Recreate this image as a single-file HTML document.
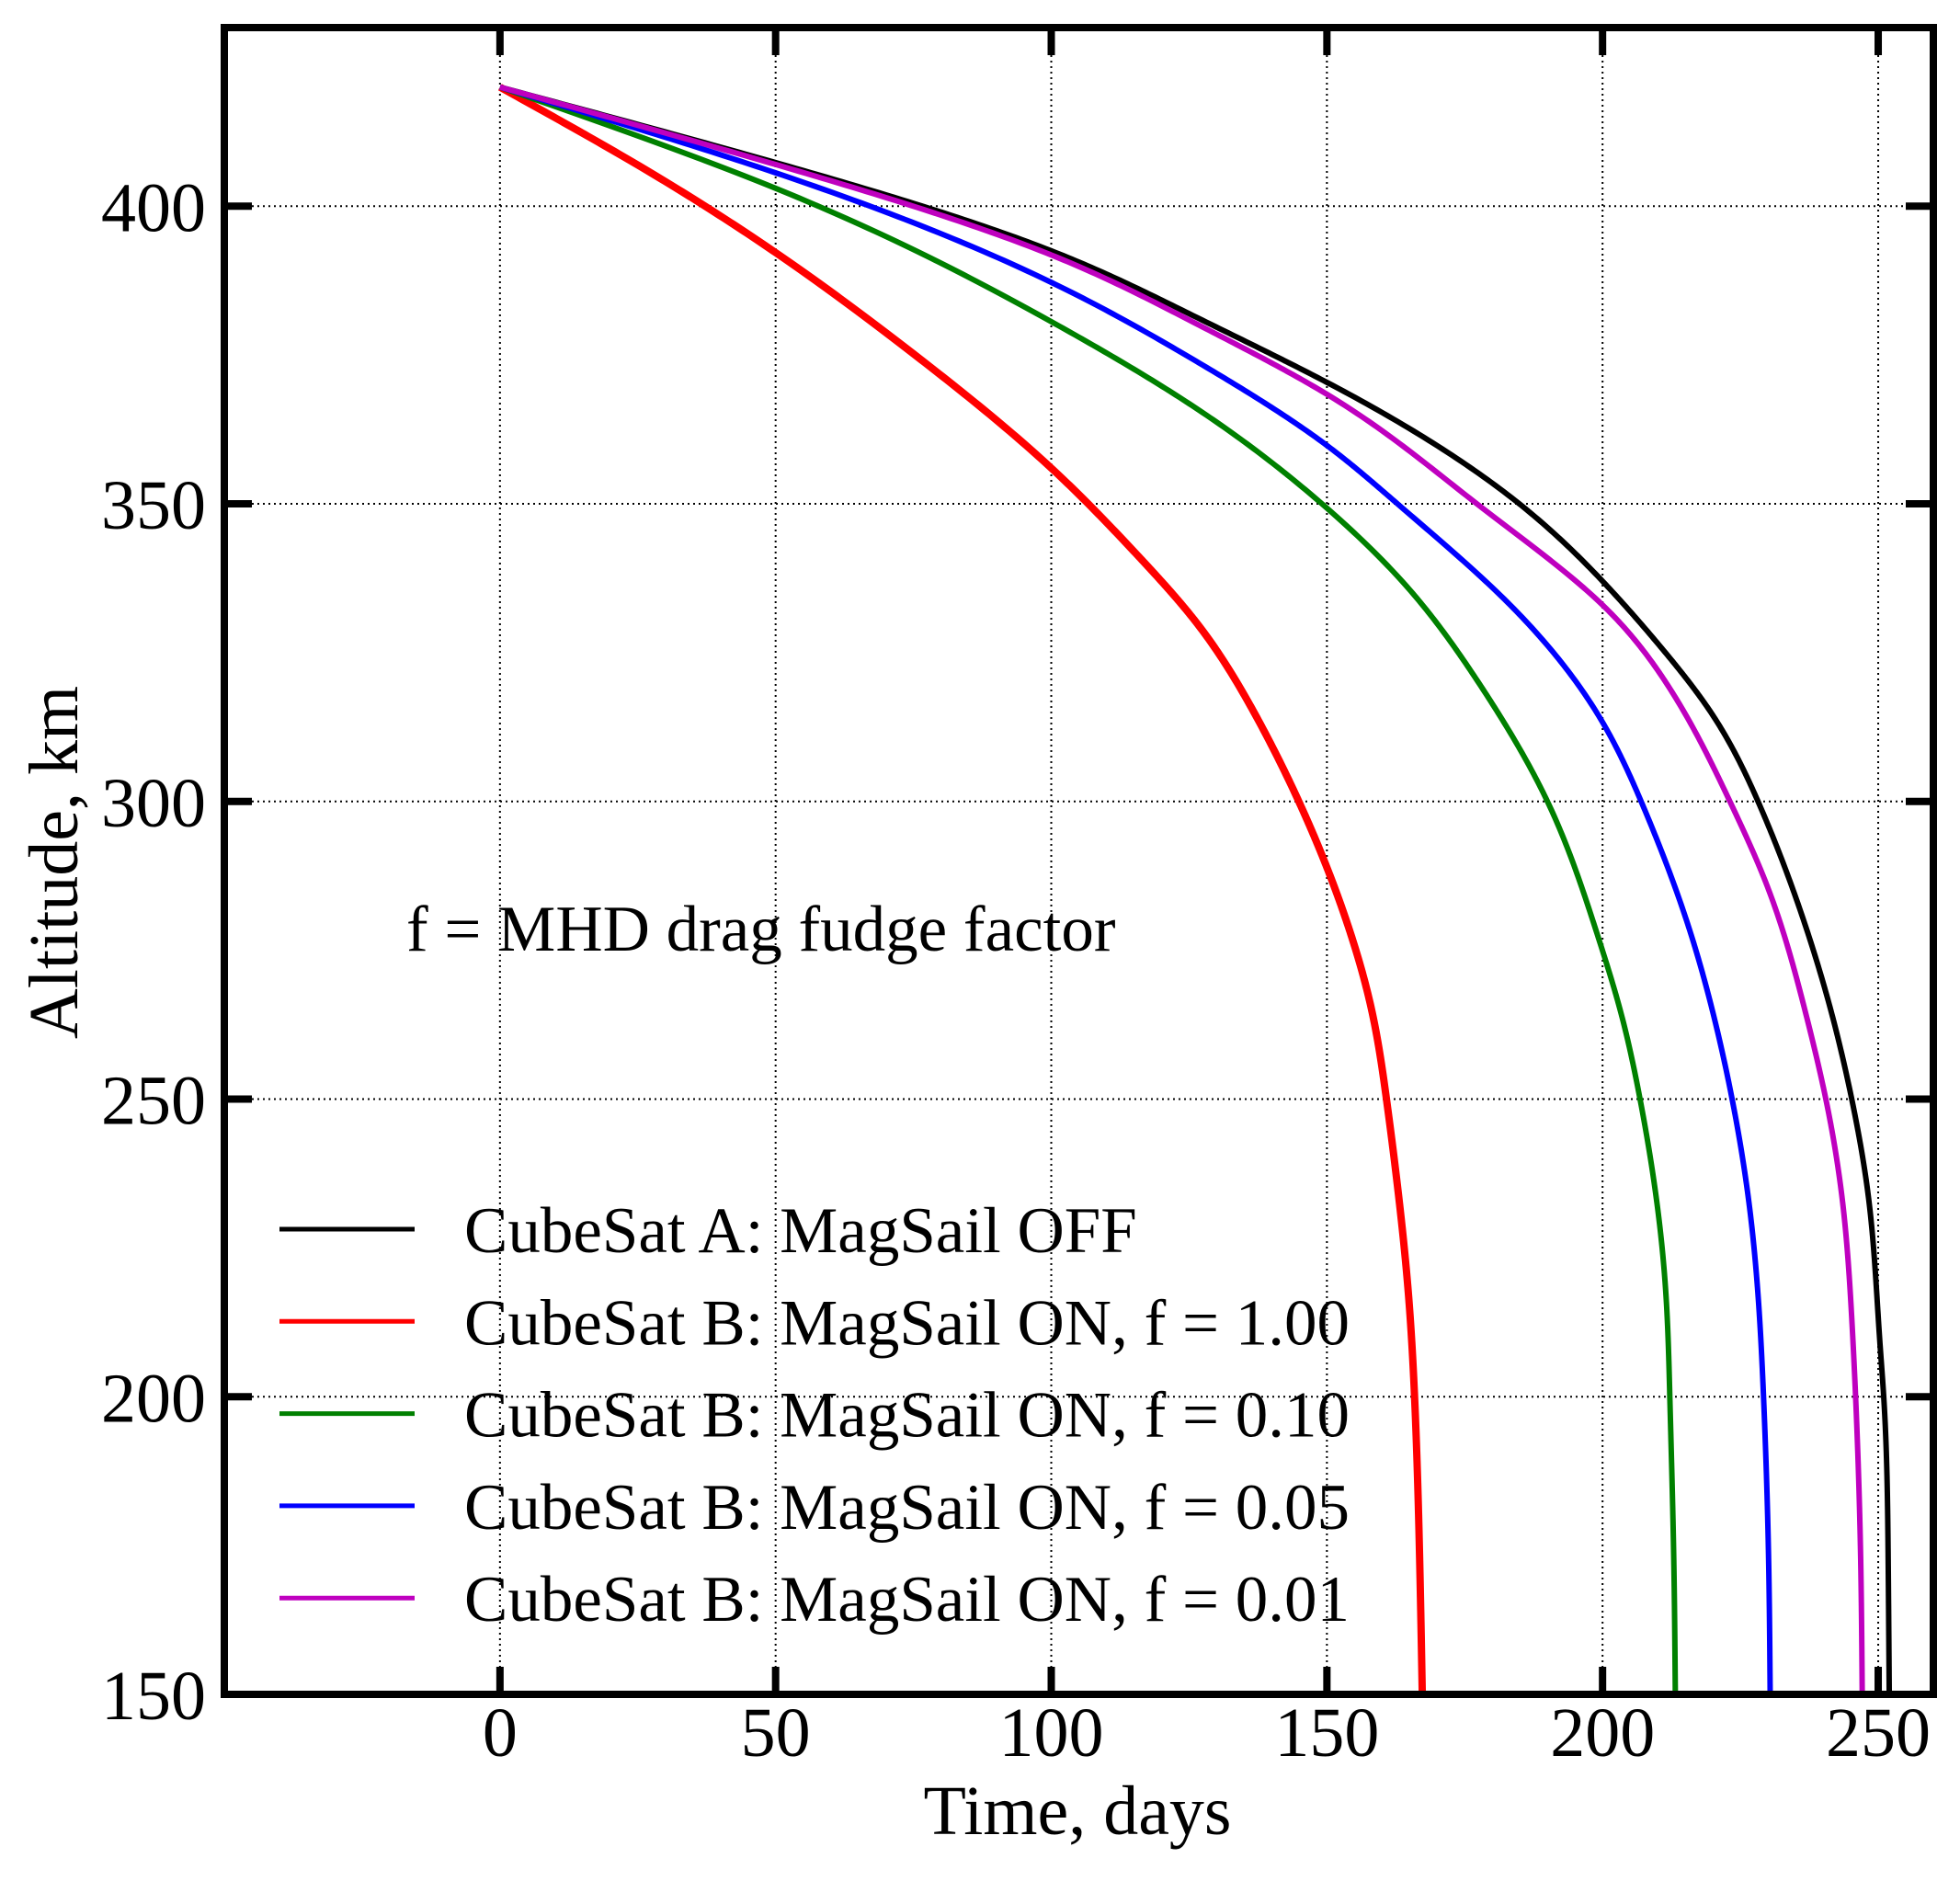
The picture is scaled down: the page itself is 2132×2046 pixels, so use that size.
<!DOCTYPE html>
<html><head><meta charset="utf-8"><style>
html,body{margin:0;padding:0;background:#fff}
svg text{font-family:"Liberation Serif",serif;fill:#000}
</style></head><body>
<svg id="chart" width="2132" height="2041" viewBox="0 0 2132 2041" xmlns="http://www.w3.org/2000/svg">
<g id="grid"></g>
<g id="series"></g>
<g id="axes"></g>
<text x="442" y="1034" font-size="71">f = MHD drag fudge factor</text>
<text x="1172" y="1995" font-size="76" text-anchor="middle">Time, days</text>
<text transform="translate(84,938) rotate(-90)" font-size="76" text-anchor="middle">Altitude, km</text>
<g id="legend"></g>
</svg>
<script>
const xTicks=[0,50,100,150,200,250];
const yTicks=[150,200,250,300,350,400];
const seriesNames=["CubeSat A: MagSail OFF","CubeSat B: MagSail ON, f = 1.00","CubeSat B: MagSail ON, f = 0.10","CubeSat B: MagSail ON, f = 0.05","CubeSat B: MagSail ON, f = 0.01"];
const seriesColors=["#000000","#ff0000","#008000","#0000ff","#bf00bf"];
const blackT=[0,49.3,100,126.2,150,184.9,200,210.5,219.7,228.2,236.7,241.5,245.2,248.3,250.3,251,251.8,252];
const blackA=[420,407.5,392.5,381.4,370.4,350,337,326,314.9,300,279.4,264.6,250,233,209.2,200,173.6,150];
const redT=[0,25.2,50,75,100,115.6,126.2,136.4,144.9,150,154.3,158.2,160.8,163.1,164.8,165.9,166.8,167.3];
const redA=[420,406.8,392.2,375.2,356,341.4,330.2,315.6,300,288.9,277.8,264.6,250,233,217.1,200,173.6,150];
const greenT=[0,50,100,126.2,149.1,164.5,177.2,190,199,203.3,206.8,209.8,211.5,212.2,212.9,213.2];
const greenA=[420,403,380.6,366.1,350,336.1,320.4,300,277.8,264.6,250,233,217.1,200,173.6,150];
const blueT=[0,50,100,126.2,150,162.8,181.5,200,207,216,220,223.5,226.5,228.2,229.2,230.1,230.4];
const blueA=[420,405.6,387.2,374,359.8,350,334.6,313.3,300,277.8,264.6,250,233,217.1,200,173.6,150];
const magT=[0,50,100,126.2,150,177.2,200,211.2,223.1,229.9,236.8,240.5,243.5,245.2,245.9,246.8,247.1];
const magA=[420,407,391.8,380.3,368.4,350,333,320.4,300,285.7,264.6,250,233,213.2,200,173.6,150];

const X0=244,X1=2103,Y0=30,Y1=1843,xmin=-50,xmax=260,ymin=150,ymax=430;
const sx=v=>X0+(v-xmin)/(xmax-xmin)*(X1-X0);
const sy=v=>Y1-(v-ymin)/(ymax-ymin)*(Y1-Y0);
const NS="http://www.w3.org/2000/svg";
function mk(tag,parent,attrs){const e=document.createElementNS(NS,tag);for(const k in attrs)e.setAttribute(k,attrs[k]);parent.appendChild(e);return e;}
const grid=document.getElementById('grid'),axes=document.getElementById('axes'),ser=document.getElementById('series'),leg=document.getElementById('legend');
xTicks.forEach(t=>{
 const g=mk('line',grid,{x1:sx(t),x2:sx(t),y1:Y0,y2:Y1,stroke:'#000','stroke-width':2,'stroke-dasharray':'2,4'});
 
 [[Y1,Y1-30],[Y0,Y0+30]].forEach(p=>{const k=mk('line',axes,{x1:sx(t),x2:sx(t),y1:p[0],y2:p[1],stroke:'#000','stroke-width':8});
 });
 const l=mk('text',axes,{x:sx(t),y:1910,'font-size':76,'text-anchor':'middle'});l.textContent=t;
 
});
yTicks.forEach(t=>{
 const g=mk('line',grid,{x1:X0,x2:X1,y1:sy(t),y2:sy(t),stroke:'#000','stroke-width':2,'stroke-dasharray':'2,4'});
 
 [[X0,X0+30],[X1,X1-30]].forEach(p=>{const k=mk('line',axes,{x1:p[0],x2:p[1],y1:sy(t),y2:sy(t),stroke:'#000','stroke-width':8});
 });
 const l=mk('text',axes,{x:224,y:sy(t)+27,'font-size':76,'text-anchor':'end'});l.textContent=t;
 
});
const fr=mk('rect',axes,{x:X0,y:Y0,width:X1-X0,height:Y1-Y0,fill:'none',stroke:'#000','stroke-width':8});

function pathFrom(T0,A0){
 const H=A0.slice().reverse(),T=T0.slice().reverse(),n=H.length;
 const h=[],al=[0],l=[1],mu=[0],z=[0],c=new Array(n).fill(0),b=[],d=[];
 for(let i=0;i<n-1;i++)h.push(H[i+1]-H[i]);
 for(let i=1;i<n-1;i++)al.push(3/h[i]*(T[i+1]-T[i])-3/h[i-1]*(T[i]-T[i-1]));
 for(let i=1;i<n-1;i++){l[i]=2*(H[i+1]-H[i-1])-h[i-1]*mu[i-1];mu[i]=h[i]/l[i];z[i]=(al[i]-h[i-1]*z[i-1])/l[i];}
 for(let j=n-2;j>=0;j--){c[j]=(j==0?0:z[j]-mu[j]*c[j+1]);b[j]=(T[j+1]-T[j])/h[j]-h[j]*(c[j+1]+2*c[j])/3;d[j]=(c[j+1]-c[j])/(3*h[j]);}
 let s='M'+sx(T[0]).toFixed(2)+','+sy(H[0]).toFixed(2);
 for(let i=0;i<n-1;i++){for(let k=1;k<=40;k++){const u=k/40*h[i];
   const t=T[i]+b[i]*u+c[i]*u*u+d[i]*u*u*u;
   s+=' L'+sx(t).toFixed(2)+','+sy(H[i]+u).toFixed(2);}}
 return s;}
const all=[[blackT,blackA],[redT,redA],[greenT,greenA],[blueT,blueA],[magT,magA]];
const order=[1,2,3,0,4];
const names=['series-cubesat-a-off','series-f-1.00','series-f-0.10','series-f-0.05','series-f-0.01'];
order.forEach(i=>{const s=all[i];
 const p=mk('path',ser,{d:pathFrom(s[0],s[1]),fill:'none',stroke:seriesColors[i],'stroke-width':i==1?8:6,'stroke-linejoin':'round'});
 });
seriesNames.forEach((n,i)=>{const y=1337+i*100.3;
 const l=mk('line',leg,{x1:304,x2:451,y1:y,y2:y,stroke:seriesColors[i],'stroke-width':5});
 
 const t=mk('text',leg,{x:505,y:y+25,'font-size':71});t.textContent=n;
 });
</script>
</body></html>
